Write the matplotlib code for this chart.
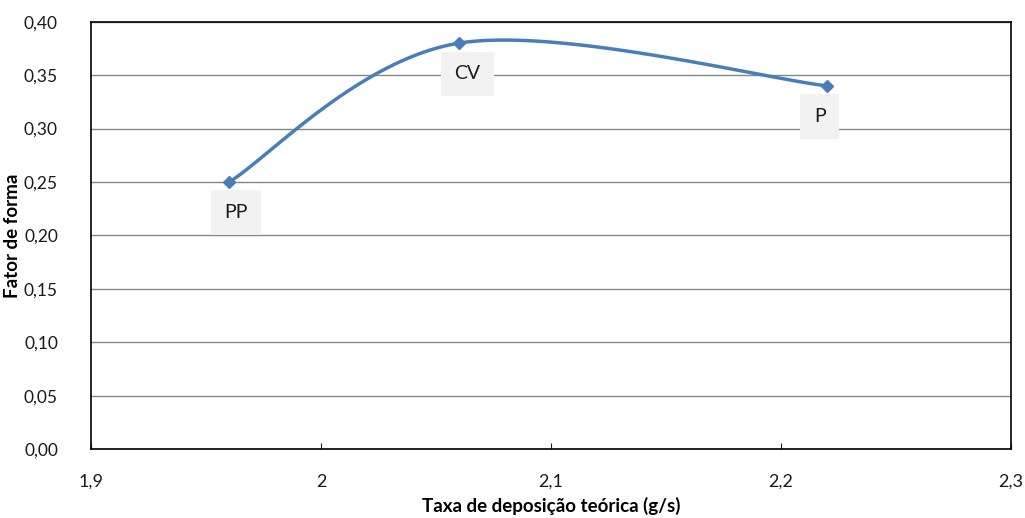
import matplotlib.pyplot as plt
import numpy as np
from matplotlib.ticker import FuncFormatter

plt.rcParams['font.family'] = ['Lato', 'DejaVu Sans']

# data
taxa = [1.96, 2.06, 2.22]
fator = [0.25, 0.38, 0.34]
rotulos = ['PP', 'CV', 'P']


# Excel-like smoothed line (bezier with catmull-rom control points)
def smooth_curve(xs, ys, n=60):
    pts = np.column_stack([xs, ys])
    out = []
    for i in range(len(pts) - 1):
        p0 = pts[i - 1] if i > 0 else pts[i]
        p1 = pts[i]
        p2 = pts[i + 1]
        p3 = pts[i + 2] if i + 2 < len(pts) else pts[i + 1]
        c1 = p1 + (p2 - p0) / 6
        c2 = p2 - (p3 - p1) / 6
        t = np.linspace(0, 1, n)[:, None]
        seg = ((1 - t) ** 3 * p1 + 3 * (1 - t) ** 2 * t * c1
               + 3 * (1 - t) * t ** 2 * c2 + t ** 3 * p2)
        out.append(seg)
    out = np.vstack(out)
    return out[:, 0], out[:, 1]


fig = plt.figure(figsize=(10.25, 5.18), dpi=100)
ax = fig.add_axes([0.089, 0.133, 0.897, 0.825])

cx, cy = smooth_curve(taxa, fator)
ax.plot(cx, cy, color='#4a7ebb', lw=2.5, zorder=3)
ax.plot(taxa, fator, ls='none', marker='D', ms=6.5, color='#4a7ebb', zorder=4)

offsets = [(5, -22), (6, -22), (-5, -22)]
for x, y, r, off in zip(taxa, fator, rotulos, offsets):
    ax.annotate(r, (x, y), xytext=off, textcoords='offset points',
                ha='center', va='center', fontsize=14, color='#1a1a1a',
                bbox=dict(boxstyle='square,pad=0.7', fc='#f2f2f2', ec='none'),
                zorder=5)

ax.set_xlim(1.9, 2.3)
ax.set_ylim(0, 0.40)
ax.set_xticks([1.9, 2.0, 2.1, 2.2, 2.3])
ax.set_yticks(np.arange(0, 0.401, 0.05))

ax.xaxis.set_major_formatter(FuncFormatter(
    lambda v, p: ('%g' % round(v, 2)).replace('.', ',')))
ax.yaxis.set_major_formatter(FuncFormatter(
    lambda v, p: ('%.2f' % v).replace('.', ',')))

ax.grid(axis='y', color='#868686', lw=1)
ax.set_axisbelow(True)
for s in ax.spines.values():
    s.set_color('black')
    s.set_linewidth(1.2)

ax.tick_params(axis='x', direction='in', length=4, pad=18, labelsize=13,
               colors='#1a1a1a')
ax.tick_params(axis='y', length=0, pad=24, labelsize=12.5, colors='#1a1a1a')

ax.set_xlabel('Taxa de deposição teórica (g/s)', fontsize=13.5,
              fontweight='bold', va='center')
ax.xaxis.set_label_coords(0.5, -0.134)
ax.set_ylabel('Fator de forma', fontsize=13.5, fontweight='bold', va='center')
ax.yaxis.set_label_coords(-0.086, 0.5)

fig.savefig('out.png', dpi=100, facecolor='white')
